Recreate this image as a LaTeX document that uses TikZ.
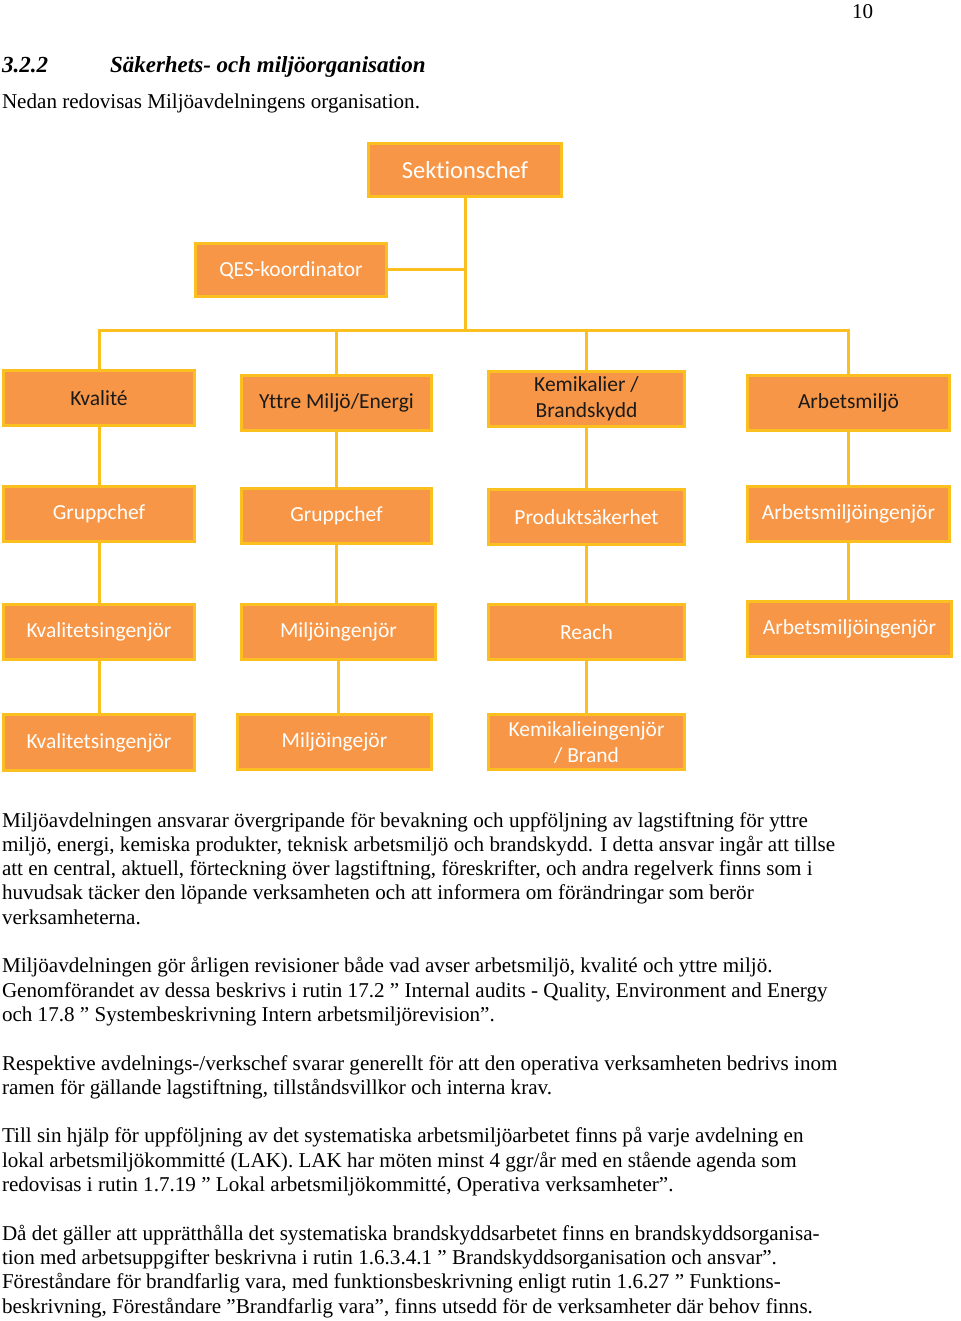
\documentclass[tikz,border=0pt]{standalone}
\usepackage{fontspec}
\setmainfont{Liberation Serif}
\newfontfamily\boxfont[Ligatures={NoCommon}]{Carlito}
\definecolor{boxfill}{HTML}{F79646}
\definecolor{boxline}{HTML}{FBC020}
\definecolor{darktext}{HTML}{1A1A1A}
\begin{document}
\begin{tikzpicture}[x=1pt,y=-1pt,
  orgbox/.style={draw=boxline, line width=3pt, fill=boxfill, inner sep=0pt, outer sep=0pt,
    align=center, text=white, font=\boxfont\fontsize{21.5}{26}\selectfont},
  darkbox/.style={orgbox, text=darktext},
  conn/.style={draw=boxline, line width=3pt},
  body/.style={anchor=base west, inner sep=0pt, outer sep=0pt, font=\fontsize{21.1}{24.3}\selectfont},
  headtxt/.style={anchor=base west, inner sep=0pt, outer sep=0pt, font=\fontsize{23}{27}\selectfont\bfseries\itshape}
]
\useasboundingbox (0,0) rectangle (960,1321);

% header
\node[body] (pagenum) at (852,19) {10};
\node[headtxt] (secnum) at (2,73) {3.2.2};
\node[headtxt] (sectitle) at (110,73) {Säkerhets- och miljöorganisation};
\node[body] (intro) at (2,109) {Nedan redovisas Miljöavdelningens organisation.};

% boxes
\node[orgbox, minimum width=193pt, minimum height=53pt, font=\boxfont\fontsize{24.5}{28}\selectfont] (sek) at (465,170) {Sektionschef};
\node[orgbox, minimum width=191pt, minimum height=53pt] (qes) at (291,270) {QES-koordinator};

\node[darkbox, minimum width=191pt, minimum height=55pt] (kval) at (99,398) {Kvalité};
\node[darkbox, minimum width=190pt, minimum height=55pt] (ytt) at (336.5,403) {Yttre Miljö/Energi};
\node[darkbox, minimum width=196pt, minimum height=55pt] (kem) at (586.5,399) {Kemikalier /\\Brandskydd};
\node[darkbox, minimum width=202pt, minimum height=55pt] (arb) at (848.5,403) {Arbetsmiljö};

\node[orgbox, minimum width=191pt, minimum height=55pt] (gc1) at (99,514) {Gruppchef};
\node[orgbox, minimum width=190pt, minimum height=55pt] (gc2) at (336.5,516) {Gruppchef};
\node[orgbox, minimum width=196pt, minimum height=55pt] (prod) at (586.5,517) {Produktsäkerhet};
\node[orgbox, minimum width=202pt, minimum height=55pt] (ai1) at (848.5,514) {Arbetsmiljöingenjör};

\node[orgbox, minimum width=191pt, minimum height=55pt] (ki1) at (99,632) {Kvalitetsingenjör};
\node[orgbox, minimum width=194pt, minimum height=55pt] (mi1) at (338.5,632) {Miljöingenjör};
\node[orgbox, minimum width=196pt, minimum height=55pt] (reach) at (586.5,632) {Reach};
\node[orgbox, minimum width=204pt, minimum height=55pt] (ai2) at (849.5,629) {Arbetsmiljöingenjör};

\node[orgbox, minimum width=191pt, minimum height=56pt] (ki2) at (99,742.5) {Kvalitetsingenjör};
\node[orgbox, minimum width=194pt, minimum height=55pt] (mi2) at (334.5,742) {Miljöingejör};
\node[orgbox, minimum width=196pt, minimum height=55pt] (kb) at (586.5,742) {Kemikalieingenjör\\/ Brand};

% connectors
\coordinate (j) at (465,330);
\draw[conn] (sek.south) -- (sek.south |- j);
\draw[conn] (qes.east) -- (qes.east -| sek.south);
\draw[conn] (kval.north) -- (kval.north |- j) -- (arb.north |- j) -- (arb.north);
\draw[conn] (ytt.north |- j) -- (ytt.north);
\draw[conn] (kem.north |- j) -- (kem.north);

\draw[conn] (kval.south) -- (kval.south |- gc1.north);
\draw[conn] (gc1.south) -- (gc1.south |- ki1.north);
\draw[conn] (ki1.south) -- (ki1.south |- ki2.north);

\draw[conn] (ytt.south) -- (ytt.south |- gc2.north);
\draw[conn] (gc2.south) -- (gc2.south |- mi1.north);
\draw[conn] (mi1.south) -- (mi1.south |- mi2.north);

\draw[conn] (kem.south) -- (kem.south |- prod.north);
\draw[conn] (prod.south) -- (prod.south |- reach.north);
\draw[conn] (reach.south) -- (reach.south |- kb.north);

\draw[conn] (arb.south) -- (arb.south |- ai1.north);
\draw[conn] (ai1.south) -- (ai1.south |- ai2.north);

% body text
\node[body] (p1a) at (2,827.0) {Miljöavdelningen ansvarar övergripande för bevakning och uppföljning av lagstiftning för yttre};
\node[body] (p1b) at (2,851.3) {miljö, energi, kemiska produkter, teknisk arbetsmiljö och brandskydd. I detta ansvar ingår att tillse};
\node[body] (p1c) at (2,875.6) {att en central, aktuell, förteckning över lagstiftning, föreskrifter, och andra regelverk finns som i};
\node[body] (p1d) at (2,899.9) {huvudsak täcker den löpande verksamheten och att informera om förändringar som berör};
\node[body] (p1e) at (2,924.2) {verksamheterna.};

\node[body] (p2a) at (2,972.8) {Miljöavdelningen gör årligen revisioner både vad avser arbetsmiljö, kvalité och yttre miljö.};
\node[body] (p2b) at (2,997.1) {Genomförandet av dessa beskrivs i rutin 17.2 ” Internal audits - Quality, Environment and Energy};
\node[body] (p2c) at (2,1021.4) {och 17.8 ” Systembeskrivning Intern arbetsmiljörevision”.};

\node[body] (p3a) at (2,1070.0) {Respektive avdelnings-/verkschef svarar generellt för att den operativa verksamheten bedrivs inom};
\node[body] (p3b) at (2,1094.3) {ramen för gällande lagstiftning, tillståndsvillkor och interna krav.};

\node[body] (p4a) at (2,1142.9) {Till sin hjälp för uppföljning av det systematiska arbetsmiljöarbetet finns på varje avdelning en};
\node[body] (p4b) at (2,1167.2) {lokal arbetsmiljökommitté (LAK). LAK har möten minst 4 ggr/år med en stående agenda som};
\node[body] (p4c) at (2,1191.5) {redovisas i rutin 1.7.19 ” Lokal arbetsmiljökommitté, Operativa verksamheter”.};

\node[body] (p5a) at (2,1240.1) {Då det gäller att upprätthålla det systematiska brandskyddsarbetet finns en brandskyddsorganisa-};
\node[body] (p5b) at (2,1264.4) {tion med arbetsuppgifter beskrivna i rutin 1.6.3.4.1 ” Brandskyddsorganisation och ansvar”.};
\node[body] (p5c) at (2,1288.7) {Föreståndare för brandfarlig vara, med funktionsbeskrivning enligt rutin 1.6.27 ” Funktions-};
\node[body] (p5d) at (2,1313.0) {beskrivning, Föreståndare ”Brandfarlig vara”, finns utsedd för de verksamheter där behov finns.};
\end{tikzpicture}
\end{document}
